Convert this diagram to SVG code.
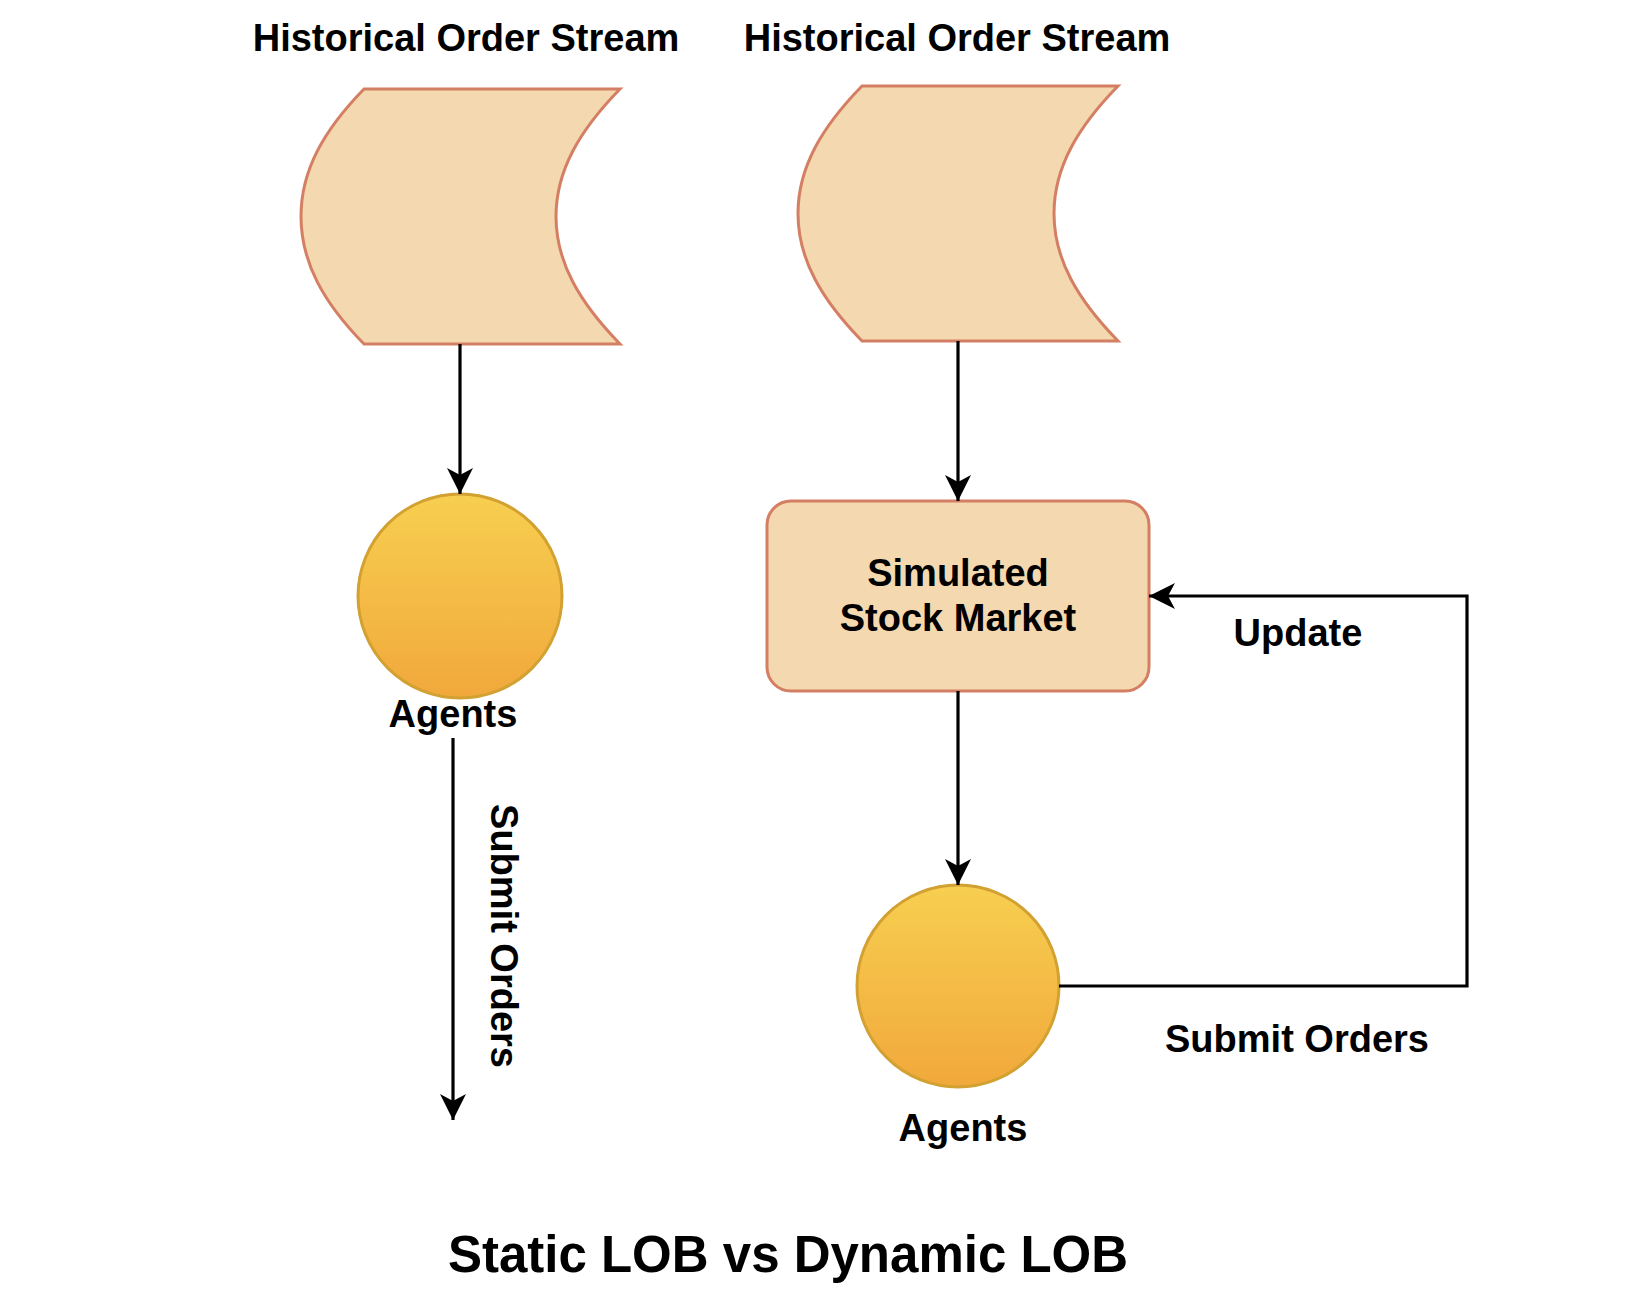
<svg xmlns="http://www.w3.org/2000/svg" width="1636" height="1294" viewBox="0 0 1636 1294">
<style>
text{font-family:"Liberation Sans",Arial,sans-serif;font-weight:bold;fill:#000;text-anchor:middle}
.lbl{font-size:38px}
.title{font-size:51px}
.store{fill:#F4D8B0;stroke:#D47F63;stroke-width:3}
.box{fill:#F4D8B0;stroke:#D47F63;stroke-width:3}
.agent{fill:url(#gold);stroke:#D2A132;stroke-width:3}
.edge{fill:none;stroke:#000;stroke-width:3.2}
</style>
<defs>
<linearGradient id="gold" x1="0" y1="0" x2="0" y2="1">
<stop offset="0" stop-color="#F7CF50"/>
<stop offset="1" stop-color="#F1A83B"/>
</linearGradient>
<marker id="arr" markerUnits="userSpaceOnUse" markerWidth="32" markerHeight="32" viewBox="-28 -16 32 32" refX="0" refY="0" orient="auto">
<path d="M0,0 L-26,-13 L-19,0 L-26,13 Z" fill="#000"/>
</marker>
</defs>
<rect width="1636" height="1294" fill="#fff"/>
<g id="stream-left">
<path class="store" d="M364,89 L620,89 C580,130 556,170 556,216.5 C556,263 580,303 620,344 L364,344 C324,303 301,263 301,216.5 C301,170 324,130 364,89 Z"/>
<text class="lbl" x="466" y="51">Historical Order Stream</text>
</g>
<g id="stream-right">
<path class="store" d="M862,86 L1118,86 C1078,127 1054,167 1054,213.5 C1054,260 1078,300 1118,341 L862,341 C822,300 798,260 798,213.5 C798,167 822,127 862,86 Z"/>
<text class="lbl" x="957" y="51">Historical Order Stream</text>
</g>
<g id="agents-left">
<circle class="agent" cx="460" cy="596" r="102"/>
<text class="lbl" x="453" y="727">Agents</text>
</g>
<g id="market">
<rect class="box" x="767" y="501" width="382" height="190" rx="24" ry="24"/>
<text class="lbl" x="958" y="586">Simulated</text>
<text class="lbl" x="958" y="631">Stock Market</text>
</g>
<g id="agents-right">
<circle class="agent" cx="958" cy="986" r="101"/>
<text class="lbl" x="963" y="1141">Agents</text>
</g>
<g id="connectors">
<line class="edge" x1="460" y1="344" x2="460" y2="494" marker-end="url(#arr)"/>
<line class="edge" x1="453" y1="738" x2="453" y2="1120" marker-end="url(#arr)"/>
<line class="edge" x1="958" y1="341" x2="958" y2="501" marker-end="url(#arr)"/>
<line class="edge" x1="958" y1="691" x2="958" y2="885" marker-end="url(#arr)"/>
<polyline class="edge" points="1059,986 1467,986 1467,596 1149,596" marker-end="url(#arr)"/>
<text class="lbl" transform="translate(491,936) rotate(90)" x="0" y="0">Submit Orders</text>
<text class="lbl" x="1298" y="646">Update</text>
<text class="lbl" x="1297" y="1052">Submit Orders</text>
</g>
<text class="title" x="788" y="1272">Static LOB vs Dynamic LOB</text>
</svg>
